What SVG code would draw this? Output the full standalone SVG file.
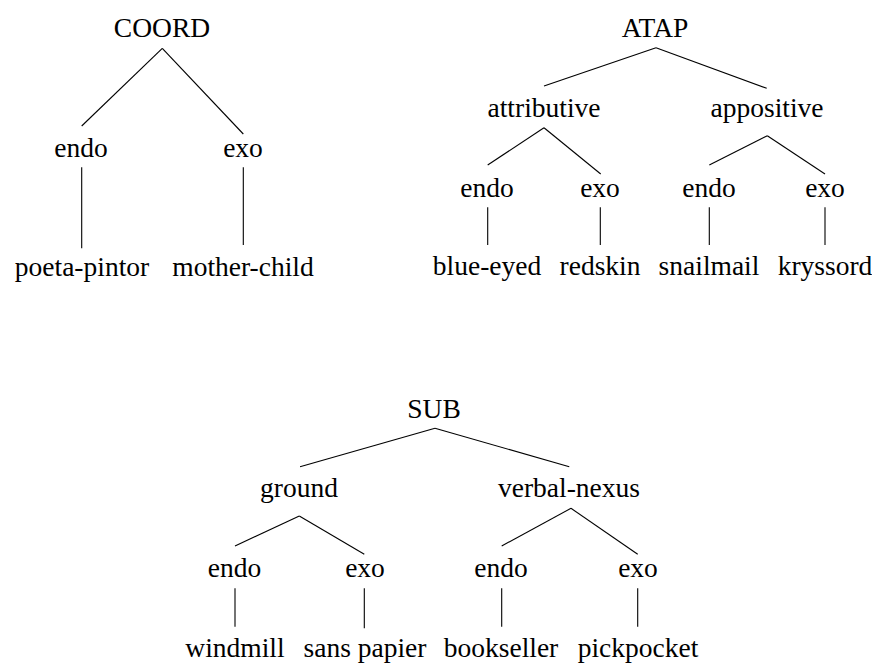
<svg xmlns="http://www.w3.org/2000/svg" width="872" height="664" viewBox="0 0 872 664">
<style>
text{font-family:'Liberation Serif','DejaVu Serif',serif;font-size:27.5px;fill:#000;text-anchor:middle}
.e line{stroke:#000;stroke-width:1.1;fill:none}
</style>
<rect width="872" height="664" fill="#fff"/>
<g class="e" id="edges">
<line x1="162.3" y1="48.3" x2="81.7" y2="126"/>
<line x1="162.3" y1="48.3" x2="243.3" y2="134"/>
<line x1="81.7" y1="167.3" x2="81.7" y2="248.3"/>
<line x1="243.3" y1="167.3" x2="243.3" y2="245"/>
<line x1="656" y1="47.7" x2="544" y2="86"/>
<line x1="656" y1="47.7" x2="766.7" y2="88.3"/>
<line x1="544" y1="127.7" x2="487.7" y2="165"/>
<line x1="544" y1="127.7" x2="600.7" y2="174"/>
<line x1="767.3" y1="135.7" x2="709.3" y2="165"/>
<line x1="767.3" y1="135.7" x2="825" y2="174"/>
<line x1="487.7" y1="207.3" x2="487.7" y2="245"/>
<line x1="600.3" y1="207.3" x2="600.3" y2="245"/>
<line x1="709.3" y1="207.3" x2="709.3" y2="245"/>
<line x1="825" y1="207.3" x2="825" y2="245"/>
<line x1="435" y1="428.3" x2="300" y2="466.7"/>
<line x1="435" y1="428.3" x2="569.3" y2="466.7"/>
<line x1="299.3" y1="516" x2="235" y2="546"/>
<line x1="299.3" y1="516" x2="364.3" y2="554.3"/>
<line x1="571" y1="508.3" x2="501.7" y2="546"/>
<line x1="571" y1="508.3" x2="637.7" y2="554.3"/>
<line x1="235" y1="588.3" x2="235" y2="626.7"/>
<line x1="364.3" y1="588.3" x2="364.3" y2="628.3"/>
<line x1="501.7" y1="588.3" x2="501.7" y2="626.7"/>
<line x1="637.7" y1="588.3" x2="637.7" y2="626.7"/>
</g>
<g id="coord"><text x="162" y="37">COORD</text></g>
<g id="coord-endo"><text x="81" y="157">endo</text></g>
<g id="coord-exo"><text x="243" y="157">exo</text></g>
<g id="poeta-pintor"><text x="82" y="276">poeta-pintor</text></g>
<g id="mother-child"><text x="243" y="276">mother-child</text></g>
<g id="atap"><text x="655" y="37">ATAP</text></g>
<g id="attributive"><text x="544" y="117">attributive</text></g>
<g id="appositive"><text x="767" y="117">appositive</text></g>
<g id="attr-endo"><text x="487" y="197">endo</text></g>
<g id="attr-exo"><text x="600" y="197">exo</text></g>
<g id="appo-endo"><text x="709" y="197">endo</text></g>
<g id="appo-exo"><text x="825" y="197">exo</text></g>
<g id="blue-eyed"><text x="487" y="275">blue-eyed</text></g>
<g id="redskin"><text x="600" y="275">redskin</text></g>
<g id="snailmail"><text x="709" y="275">snailmail</text></g>
<g id="kryssord"><text x="825" y="275">kryssord</text></g>
<g id="sub"><text x="434" y="418">SUB</text></g>
<g id="ground"><text x="299" y="497">ground</text></g>
<g id="verbal-nexus"><text x="569" y="497">verbal-nexus</text></g>
<g id="ground-endo"><text x="234.5" y="577">endo</text></g>
<g id="ground-exo"><text x="365" y="577">exo</text></g>
<g id="vn-endo"><text x="501" y="577">endo</text></g>
<g id="vn-exo"><text x="638" y="577">exo</text></g>
<g id="windmill"><text x="235" y="657">windmill</text></g>
<g id="sans-papier"><text x="365" y="657">sans papier</text></g>
<g id="bookseller"><text x="501" y="657">bookseller</text></g>
<g id="pickpocket"><text x="638" y="657">pickpocket</text></g>
</svg>
